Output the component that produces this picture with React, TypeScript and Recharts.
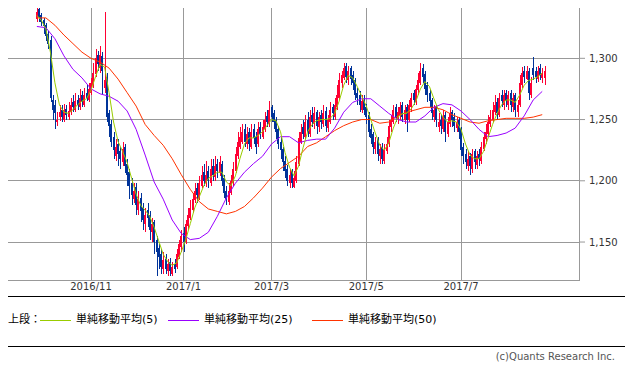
import React from "react";
import {
  Bar,
  CartesianGrid,
  ComposedChart,
  Line,
  ReferenceArea,
  XAxis,
  YAxis,
} from "recharts";

// day 0 = 2016/11/1, counted in trading days
const firstDay = -24;

const opens = [
  1332, 1340, 1335, 1331, 1327, 1320, 1315, 1266, 1262, 1248,
  1252, 1258, 1250, 1259, 1252, 1256, 1264, 1258, 1266, 1260,
  1270, 1262, 1272, 1266, 1272, 1278, 1287, 1303, 1292, 1302,
  1276, 1285, 1255, 1246, 1236, 1220, 1230, 1224, 1215, 1228,
  1214, 1207, 1198, 1185, 1195, 1176, 1186, 1178, 1165, 1176,
  1172, 1158, 1166, 1152, 1145, 1140, 1128, 1136, 1126, 1134,
  1124, 1132, 1130, 1138, 1146, 1157, 1150, 1163, 1170, 1176,
  1184, 1194, 1186, 1196, 1207, 1198, 1208, 1198, 1212, 1203,
  1214, 1206, 1214, 1202, 1192, 1183, 1190, 1198, 1208, 1220,
  1228, 1232, 1242, 1230, 1240, 1228, 1242, 1236, 1230, 1244,
  1236, 1242, 1253, 1246, 1260, 1255, 1250, 1242, 1232, 1226,
  1216, 1210, 1198, 1208, 1195, 1200, 1214, 1232, 1244, 1236,
  1250, 1238, 1254, 1246, 1256, 1244, 1254, 1246, 1257, 1243,
  1248, 1260, 1252, 1260, 1268, 1280, 1284, 1294, 1282, 1292,
  1286, 1282, 1272, 1270, 1258, 1266, 1260, 1254, 1242, 1238,
  1226, 1234, 1220, 1228, 1216, 1224, 1230, 1244, 1248, 1260,
  1250, 1254, 1262, 1250, 1260, 1250, 1260, 1272, 1264, 1274,
  1280, 1292, 1287, 1278, 1272, 1266, 1252, 1260, 1244, 1250,
  1242, 1254, 1238, 1246, 1256, 1252, 1243, 1250, 1242, 1228,
  1222, 1212, 1220, 1210, 1224, 1213, 1222, 1216, 1226, 1234,
  1238, 1246, 1250, 1256, 1264, 1254, 1270, 1262, 1272, 1262,
  1272, 1260, 1270, 1256, 1262, 1278, 1290, 1283, 1290, 1270,
  1292, 1290, 1283, 1292, 1284, 1284,
];

const highs = [
  1344, 1342, 1337, 1333, 1329, 1322, 1318, 1270, 1266, 1256,
  1262, 1262, 1263, 1262, 1264, 1268, 1270, 1272, 1270, 1275,
  1273, 1276, 1278, 1280, 1284, 1296, 1308, 1306, 1310, 1305,
  1338, 1288, 1258, 1250, 1240, 1234, 1234, 1228, 1232, 1230,
  1218, 1210, 1202, 1198, 1198, 1192, 1190, 1182, 1178, 1182,
  1175, 1170, 1168, 1155, 1148, 1144, 1142, 1140, 1136, 1137,
  1134, 1136, 1144, 1152, 1160, 1162, 1168, 1178, 1184, 1190,
  1198, 1198, 1204, 1212, 1214, 1216, 1212, 1218, 1218, 1220,
  1218, 1220, 1216, 1205, 1196, 1198, 1205, 1215, 1228, 1240,
  1244, 1246, 1246, 1244, 1243, 1246, 1246, 1240, 1248, 1248,
  1250, 1256, 1258, 1265, 1262, 1258, 1252, 1245, 1236, 1228,
  1220, 1213, 1210, 1210, 1208, 1220, 1240, 1246, 1250, 1254,
  1256, 1258, 1260, 1260, 1258, 1256, 1258, 1262, 1260, 1254,
  1264, 1263, 1268, 1278, 1288, 1290, 1296, 1296, 1294, 1294,
  1290, 1284, 1276, 1273, 1270, 1270, 1263, 1256, 1246, 1240,
  1236, 1236, 1230, 1231, 1230, 1236, 1250, 1254, 1262, 1263,
  1260, 1264, 1264, 1262, 1263, 1266, 1272, 1274, 1278, 1288,
  1296, 1295, 1290, 1281, 1275, 1268, 1262, 1262, 1255, 1254,
  1258, 1256, 1252, 1260, 1258, 1255, 1252, 1252, 1244, 1231,
  1226, 1224, 1223, 1226, 1226, 1224, 1226, 1232, 1240, 1246,
  1254, 1258, 1264, 1270, 1268, 1272, 1274, 1274, 1274, 1273,
  1274, 1272, 1272, 1266, 1286, 1293, 1294, 1294, 1292, 1285,
  1301, 1293, 1294, 1295, 1292, 1294,
];

const lows = [
  1330, 1330, 1326, 1320, 1314, 1308, 1264, 1250, 1242, 1245,
  1249, 1248, 1248, 1250, 1250, 1254, 1256, 1256, 1258, 1258,
  1260, 1260, 1265, 1264, 1270, 1276, 1285, 1290, 1288, 1270,
  1272, 1248, 1236, 1228, 1218, 1216, 1212, 1210, 1212, 1206,
  1196, 1185, 1180, 1182, 1172, 1172, 1166, 1160, 1158, 1162,
  1152, 1150, 1140, 1122, 1128, 1124, 1124, 1124, 1122, 1122,
  1122, 1125, 1128, 1136, 1142, 1142, 1148, 1160, 1168, 1174,
  1182, 1182, 1184, 1194, 1196, 1195, 1194, 1196, 1200, 1200,
  1202, 1204, 1196, 1186, 1180, 1180, 1188, 1196, 1206, 1218,
  1226, 1230, 1228, 1226, 1224, 1226, 1230, 1222, 1228, 1234,
  1234, 1240, 1244, 1244, 1248, 1242, 1234, 1226, 1218, 1208,
  1202, 1196, 1194, 1194, 1194, 1198, 1212, 1230, 1234, 1234,
  1236, 1236, 1244, 1242, 1238, 1240, 1242, 1244, 1240, 1240,
  1246, 1250, 1250, 1258, 1266, 1276, 1282, 1280, 1278, 1278,
  1274, 1266, 1262, 1256, 1255, 1254, 1246, 1236, 1230, 1222,
  1222, 1216, 1214, 1214, 1214, 1222, 1228, 1240, 1246, 1248,
  1246, 1250, 1248, 1246, 1240, 1248, 1256, 1262, 1262, 1270,
  1278, 1280, 1270, 1264, 1260, 1250, 1248, 1244, 1240, 1238,
  1240, 1232, 1236, 1244, 1244, 1240, 1240, 1234, 1220, 1214,
  1210, 1208, 1205, 1206, 1210, 1210, 1212, 1214, 1224, 1230,
  1236, 1244, 1248, 1254, 1250, 1252, 1260, 1258, 1260, 1258,
  1256, 1256, 1252, 1252, 1260, 1276, 1280, 1282, 1266, 1268,
  1282, 1280, 1281, 1282, 1280, 1278,
];

const closes = [
  1338, 1334, 1330, 1326, 1318, 1312, 1268, 1258, 1255, 1250,
  1256, 1252, 1258, 1254, 1257, 1262, 1260, 1265, 1262, 1268,
  1264, 1270, 1268, 1275, 1280, 1288, 1300, 1295, 1303, 1290,
  1282, 1252, 1245, 1232, 1225, 1228, 1222, 1218, 1226, 1212,
  1205, 1196, 1188, 1192, 1180, 1185, 1175, 1168, 1172, 1170,
  1160, 1165, 1150, 1142, 1138, 1130, 1135, 1128, 1132, 1126,
  1130, 1128, 1140, 1148, 1155, 1150, 1165, 1172, 1178, 1185,
  1192, 1188, 1198, 1205, 1200, 1205, 1200, 1210, 1205, 1212,
  1208, 1215, 1200, 1190, 1185, 1192, 1200, 1210, 1222, 1232,
  1236, 1240, 1232, 1238, 1230, 1240, 1235, 1228, 1242, 1238,
  1244, 1250, 1248, 1258, 1252, 1248, 1240, 1230, 1225, 1215,
  1208, 1200, 1205, 1198, 1202, 1215, 1235, 1240, 1238, 1248,
  1240, 1252, 1248, 1255, 1245, 1252, 1248, 1255, 1245, 1250,
  1258, 1255, 1262, 1270, 1282, 1286, 1292, 1285, 1290, 1283,
  1280, 1270, 1268, 1262, 1265, 1258, 1252, 1240, 1235, 1228,
  1232, 1222, 1226, 1218, 1225, 1230, 1245, 1250, 1258, 1252,
  1256, 1260, 1252, 1258, 1250, 1262, 1268, 1266, 1275, 1282,
  1290, 1285, 1275, 1270, 1265, 1255, 1258, 1250, 1248, 1245,
  1252, 1240, 1248, 1255, 1250, 1245, 1248, 1240, 1225, 1220,
  1215, 1218, 1212, 1222, 1215, 1220, 1218, 1228, 1236, 1240,
  1248, 1252, 1258, 1262, 1255, 1268, 1265, 1270, 1265, 1270,
  1262, 1268, 1258, 1262, 1280, 1288, 1285, 1290, 1272, 1280,
  1286, 1285, 1290, 1286, 1288, 1290,
];

// moving averages, every 2nd day (ma5) / 4th day (ma25, ma50) from firstDay
const ma5 = [
  1335, 1331, 1324, 1305, 1280, 1262, 1256, 1255, 1258, 1262,
  1265, 1267, 1274, 1285, 1295, 1293, 1272, 1248, 1232, 1224,
  1215, 1202, 1189, 1180, 1176, 1171, 1162, 1151, 1140, 1134,
  1131, 1133, 1142, 1152, 1165, 1178, 1187, 1196, 1202, 1204,
  1207, 1207, 1199, 1196, 1204, 1218, 1230, 1235, 1235, 1237,
  1240, 1245, 1250, 1249, 1240, 1223, 1211, 1204, 1212, 1227,
  1240, 1246, 1249, 1250, 1250, 1251, 1255, 1265, 1278, 1286,
  1284, 1277, 1269, 1261, 1250, 1239, 1229, 1225, 1231, 1243,
  1252, 1255, 1255, 1259, 1265, 1275, 1281, 1277, 1267, 1258,
  1252, 1248, 1249, 1248, 1242, 1230, 1221, 1218, 1218, 1224,
  1235, 1246, 1255, 1262, 1266, 1266, 1264, 1270, 1278, 1282,
  1283, 1285, 1288,
];

const ma25 = [
  1326, 1325, 1316, 1302, 1291, 1284, 1275, 1271, 1269, 1265,
  1257, 1242, 1221, 1199, 1185, 1168, 1157, 1152, 1153, 1158,
  1171, 1186, 1198, 1207, 1214, 1220, 1230, 1236, 1236, 1231,
  1233, 1234, 1234, 1243, 1256, 1264, 1267, 1267, 1261, 1255,
  1250, 1248, 1248, 1253, 1260, 1263, 1262, 1257, 1250, 1242,
  1236, 1237, 1239, 1243, 1253, 1266, 1273,
];

const ma50 = [
  1333, 1333, 1327, 1319, 1312, 1305, 1300, 1297, 1292, 1283,
  1272, 1261, 1246, 1237, 1229, 1218, 1205, 1193, 1183, 1177,
  1175, 1173, 1175, 1179, 1186, 1194, 1203, 1210, 1215, 1220,
  1228, 1231, 1236, 1241, 1245, 1248, 1250, 1250, 1247, 1248,
  1253, 1256, 1258, 1260, 1260, 1258, 1254, 1251, 1248, 1247,
  1249, 1250, 1251, 1251, 1251, 1252, 1254,
];

const xTickDays = [0, 41, 80, 122, 164];
const xTickLabels = ["2016/11", "2017/1", "2017/3", "2017/5", "2017/7"];
const yTicks = [1150, 1200, 1250, 1300];

const legendItems = [
  { name: "単純移動平均(5)", color: "#99cc00", lineX: 40, textX: 76 },
  { name: "単純移動平均(25)", color: "#9900ff", lineX: 168, textX: 204 },
  { name: "単純移動平均(50)", color: "#ff3300", lineX: 312, textX: 348 },
];

const xDomain: [number, number] = [-39.9, 216.3];
const yDomain: [number, number] = [1119, 1346.8];

type Row = {
  day: number;
  open: number;
  high: number;
  low: number;
  close: number;
  range: [number, number];
  ma5: number | null;
  ma25: number | null;
  ma50: number | null;
};

const rows: Row[] = closes.map((close, k) => ({
  day: firstDay + k,
  open: opens[k],
  high: highs[k],
  low: lows[k],
  close,
  range: [lows[k], highs[k]],
  ma5: null,
  ma25: null,
  ma50: null,
}));
ma5.forEach((v, k) => (rows[k * 2].ma5 = v));
ma25.forEach((v, k) => (rows[k * 4].ma25 = v));
ma50.forEach((v, k) => (rows[k * 4].ma50 = v));

function Candle(props: any) {
  const { x, width, payload } = props;
  let { y, height } = props;
  if (!payload || y == null) return null;
  if (height < 0) {
    y += height;
    height = -height;
  }
  const { open, close, high, low } = payload as Row;
  const color = close >= open ? "#ff0033" : "#003399";
  const pxPerYen = height / (high - low || 1);
  const top = y + (high - Math.max(open, close)) * pxPerYen;
  const bodyH = Math.max(1, Math.abs(close - open) * pxPerYen);
  const cx = Math.round(x + width / 2);
  return (
    <g shapeRendering="crispEdges">
      <rect x={cx} y={y} width={1} height={Math.max(1, height)} fill={color} />
      <rect x={cx - 1} y={top} width={2} height={bodyH} fill={color} />
    </g>
  );
}

export default function App() {
  const tickFont = { fontFamily: "DejaVu Sans", fontSize: 10, fill: "#333" };
  return (
    <div
      style={{
        position: "relative",
        width: 633,
        height: 370,
        margin: -8,
        background: "#fff",
        fontFamily: '"DejaVu Sans", "Noto Sans CJK JP", sans-serif',
      }}
    >
      <ComposedChart
        width={633}
        height={300}
        data={rows}
        margin={{ top: 1, right: 0, bottom: 0, left: 1 }}
      >
        <CartesianGrid stroke="#999" strokeWidth={1} shapeRendering="crispEdges" />
        <XAxis
          type="number"
          dataKey="day"
          domain={xDomain}
          allowDataOverflow
          ticks={xTickDays}
          interval={0}
          tickFormatter={(d: number) => xTickLabels[xTickDays.indexOf(d)] ?? ""}
          axisLine={false}
          tickLine={false}
          tickSize={0}
          tickMargin={3}
          height={20}
          tick={tickFont}
        />
        <YAxis
          orientation="right"
          domain={yDomain}
          allowDataOverflow
          ticks={yTicks}
          interval={0}
          tickFormatter={(v: number) => v.toLocaleString("en-US")}
          axisLine={false}
          tickLine={{ stroke: "#999" }}
          tickSize={6}
          tickMargin={4}
          width={54}
          tick={tickFont}
        />
        <ReferenceArea
          x1={xDomain[0]}
          x2={xDomain[1]}
          y1={yDomain[0]}
          y2={yDomain[1]}
          fill="none"
          stroke="#999"
          ifOverflow="visible"
          shapeRendering="crispEdges"
        />
        <Bar dataKey="range" shape={<Candle />} isAnimationActive={false} />
        <Line
          dataKey="ma50"
          type="linear"
          stroke="#ff3300"
          strokeWidth={1}
          dot={false}
          connectNulls
          isAnimationActive={false}
        />
        <Line
          dataKey="ma25"
          type="linear"
          stroke="#9900ff"
          strokeWidth={1}
          dot={false}
          connectNulls
          isAnimationActive={false}
        />
        <Line
          dataKey="ma5"
          type="linear"
          stroke="#99cc00"
          strokeWidth={1}
          dot={false}
          connectNulls
          isAnimationActive={false}
        />
      </ComposedChart>

      <div
        style={{
          position: "absolute",
          left: 0,
          top: 296,
          width: 633,
          height: 51,
          boxSizing: "border-box",
          border: "1px solid #000",
          fontSize: 11,
          lineHeight: "14px",
          color: "#000",
        }}
      >
        <span style={{ position: "absolute", left: 7, top: 16 }}>上段：</span>
        {legendItems.map((item) => (
          <React.Fragment key={item.name}>
            <span
              style={{
                position: "absolute",
                left: item.lineX - 1,
                top: 23,
                width: 31,
                height: 1,
                background: item.color,
              }}
            />
            <span style={{ position: "absolute", left: item.textX - 1, top: 16, whiteSpace: "nowrap" }}>
              {item.name}
            </span>
          </React.Fragment>
        ))}
      </div>

      <div
        style={{
          position: "absolute",
          right: 18,
          top: 351,
          fontSize: 10,
          color: "#555",
        }}
      >
        (c)Quants Research Inc.
      </div>
    </div>
  );
}
